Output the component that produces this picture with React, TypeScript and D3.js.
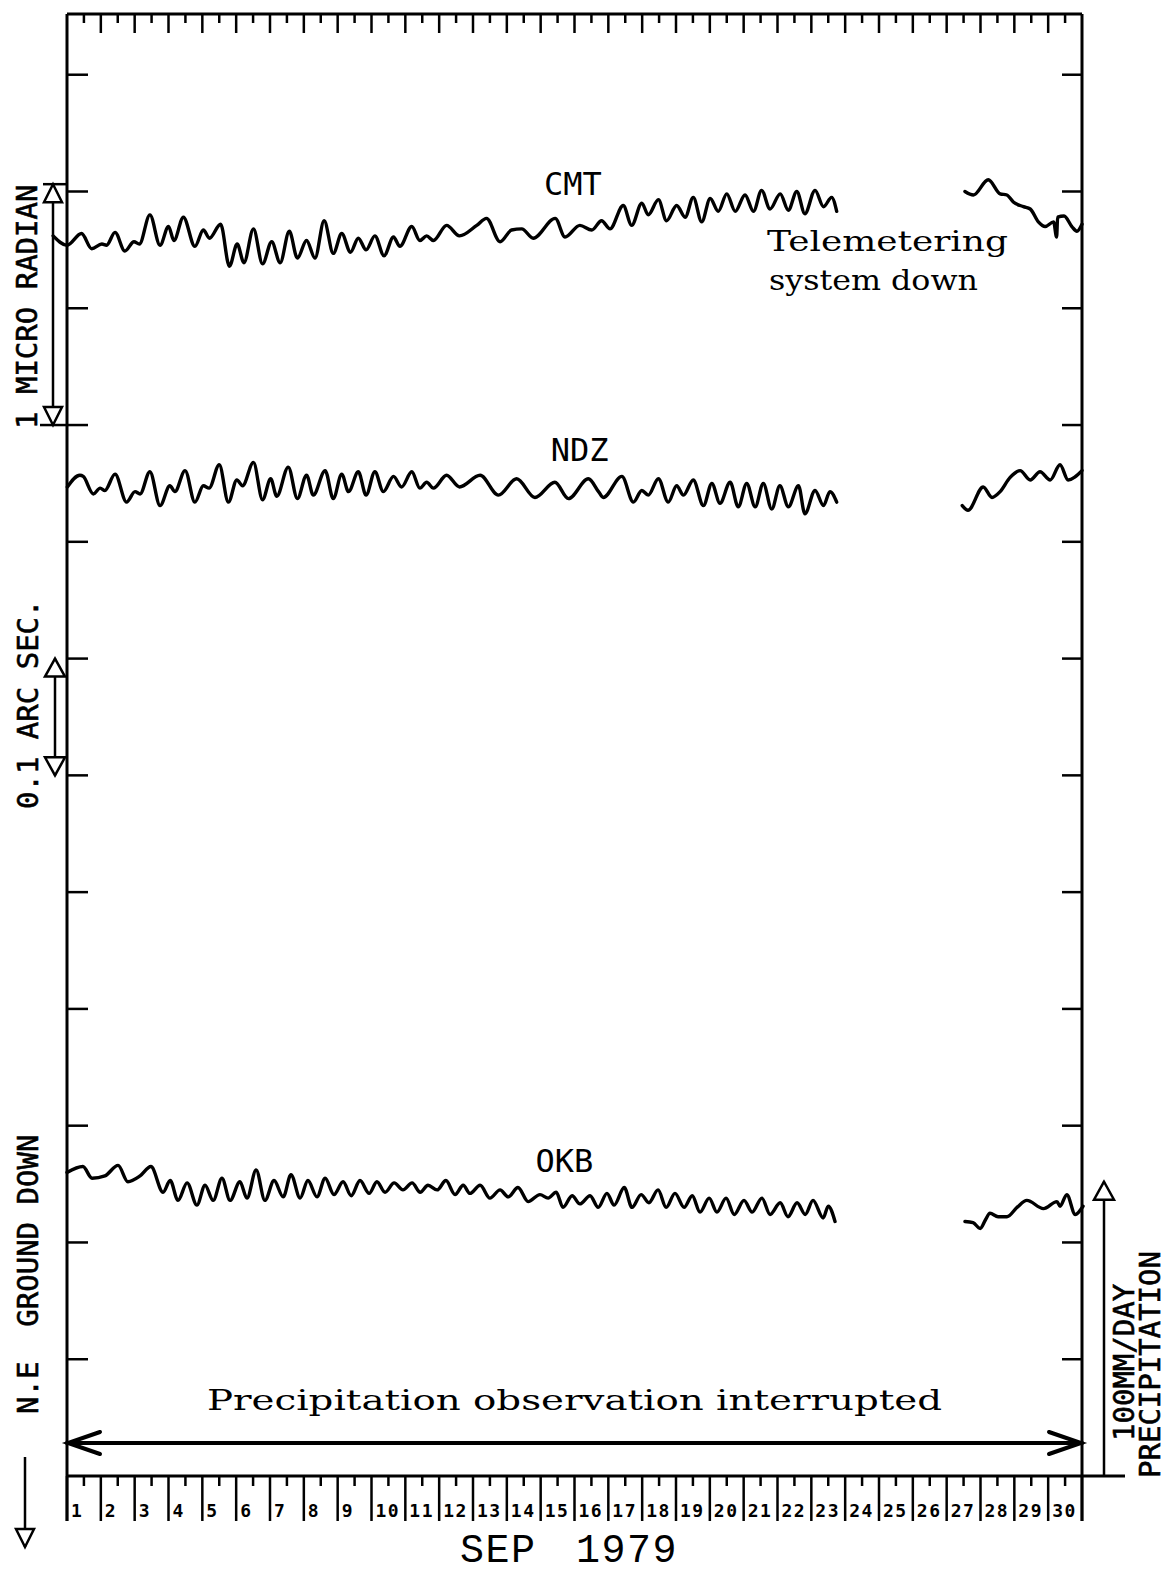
import React from "react";
import * as d3 from "d3";

// ---- data: day of Sep 1979 (fractional) and tilt in units of 0.1 arc sec ----
const dayLabels: number[] = d3.range(1, 31);
const tiltTicks: number[] = d3.range(1, 13);

const cmtBefore: [number, number][] = [
  [0.59, 10.62], [1.0, 10.54], [1.43, 10.64], [1.73, 10.51], [2.03, 10.55], [2.17, 10.54],
  [2.42, 10.65], [2.71, 10.49], [2.98, 10.57], [3.14, 10.55], [3.45, 10.8], [3.75, 10.54],
  [4.0, 10.7], [4.16, 10.58], [4.44, 10.78], [4.78, 10.53], [5.03, 10.67], [5.21, 10.6],
  [5.54, 10.72], [5.8, 10.36], [6.03, 10.55], [6.23, 10.39], [6.51, 10.68], [6.78, 10.38],
  [7.05, 10.57], [7.3, 10.39], [7.57, 10.66], [7.81, 10.43], [8.08, 10.58], [8.33, 10.43],
  [8.6, 10.75], [8.87, 10.47], [9.12, 10.64], [9.38, 10.48], [9.61, 10.6], [9.84, 10.5],
  [10.1, 10.62], [10.37, 10.45], [10.65, 10.61], [10.84, 10.53], [11.19, 10.7], [11.43, 10.58],
  [11.63, 10.62], [11.83, 10.58], [12.22, 10.71], [12.6, 10.62], [13.11, 10.71], [13.4, 10.77],
  [13.8, 10.57], [14.14, 10.67], [14.44, 10.68], [14.78, 10.6], [15.43, 10.77], [15.72, 10.61],
  [16.16, 10.71], [16.51, 10.67], [16.8, 10.75], [17.05, 10.68], [17.44, 10.88], [17.69, 10.71],
  [17.99, 10.9], [18.18, 10.8], [18.48, 10.93], [18.72, 10.75], [19.02, 10.88], [19.27, 10.78],
  [19.51, 10.95], [19.76, 10.74], [20.01, 10.94], [20.25, 10.83], [20.5, 10.98], [20.75, 10.83],
  [21.04, 10.97], [21.29, 10.83], [21.53, 11.01], [21.78, 10.85], [22.08, 10.98], [22.32, 10.84],
  [22.57, 11.0], [22.81, 10.81], [23.11, 11.01], [23.36, 10.87], [23.6, 10.95], [23.75, 10.83],
];
const cmtAfter: [number, number][] = [
  [27.54, 11.0], [27.79, 10.97], [28.23, 11.1], [28.58, 10.98], [28.78, 10.97], [28.97, 10.91],
  [29.27, 10.87], [29.47, 10.85], [29.71, 10.74], [29.91, 10.7], [30.16, 10.74], [30.25, 10.61],
  [30.28, 10.78], [30.47, 10.79], [30.7, 10.7], [30.85, 10.66], [31.0, 10.72],
];

const ndzBefore: [number, number][] = [
  [1.01, 8.47], [1.38, 8.57], [1.48, 8.56], [1.78, 8.41], [1.98, 8.46], [2.12, 8.44],
  [2.42, 8.58], [2.76, 8.34], [3.01, 8.43], [3.16, 8.41], [3.45, 8.6], [3.75, 8.31],
  [4.04, 8.48], [4.19, 8.43], [4.49, 8.61], [4.78, 8.34], [5.03, 8.48], [5.2, 8.46],
  [5.5, 8.66], [5.77, 8.34], [6.02, 8.53], [6.19, 8.48], [6.51, 8.68], [6.78, 8.36],
  [7.02, 8.54], [7.2, 8.39], [7.54, 8.64], [7.81, 8.37], [8.08, 8.57], [8.28, 8.4],
  [8.63, 8.61], [8.87, 8.37], [9.12, 8.58], [9.32, 8.43], [9.61, 8.6], [9.84, 8.4],
  [10.1, 8.6], [10.35, 8.43], [10.65, 8.56], [10.89, 8.47], [11.19, 8.6], [11.43, 8.46],
  [11.63, 8.51], [11.83, 8.46], [12.22, 8.57], [12.6, 8.47], [13.21, 8.57], [13.75, 8.4],
  [14.29, 8.54], [14.83, 8.38], [15.42, 8.51], [15.82, 8.37], [16.41, 8.54], [16.71, 8.43],
  [16.85, 8.38], [17.4, 8.56], [17.74, 8.34], [17.99, 8.44], [18.18, 8.4], [18.48, 8.54],
  [18.77, 8.34], [19.02, 8.48], [19.22, 8.4], [19.51, 8.53], [19.81, 8.31], [20.06, 8.5],
  [20.3, 8.33], [20.6, 8.51], [20.84, 8.3], [21.09, 8.5], [21.34, 8.3], [21.58, 8.5],
  [21.83, 8.28], [22.07, 8.48], [22.32, 8.3], [22.62, 8.48], [22.81, 8.24], [23.11, 8.44],
  [23.36, 8.31], [23.55, 8.43], [23.75, 8.34],
];
const ndzAfter: [number, number][] = [
  [27.46, 8.31], [27.63, 8.27], [28.08, 8.47], [28.34, 8.38], [28.58, 8.43], [28.87, 8.55],
  [29.17, 8.61], [29.47, 8.53], [29.76, 8.6], [30.06, 8.53], [30.35, 8.66], [30.59, 8.53],
  [31.0, 8.61],
];

const okbBefore: [number, number][] = [
  [1.0, 2.6], [1.47, 2.65], [1.74, 2.55], [2.12, 2.57], [2.51, 2.66], [2.8, 2.52],
  [3.16, 2.57], [3.48, 2.65], [3.84, 2.43], [4.05, 2.53], [4.28, 2.36], [4.55, 2.51],
  [4.84, 2.32], [5.08, 2.49], [5.32, 2.36], [5.58, 2.55], [5.82, 2.36], [6.11, 2.52],
  [6.32, 2.38], [6.59, 2.62], [6.85, 2.36], [7.12, 2.53], [7.39, 2.39], [7.62, 2.58],
  [7.89, 2.38], [8.12, 2.53], [8.39, 2.39], [8.63, 2.55], [8.89, 2.41], [9.16, 2.52],
  [9.4, 2.4], [9.66, 2.53], [9.93, 2.42], [10.16, 2.52], [10.4, 2.43], [10.67, 2.51],
  [10.93, 2.45], [11.2, 2.51], [11.44, 2.43], [11.67, 2.49], [11.94, 2.45], [12.2, 2.53],
  [12.47, 2.41], [12.71, 2.49], [12.91, 2.42], [13.21, 2.49], [13.5, 2.38], [13.8, 2.45],
  [14.04, 2.39], [14.33, 2.47], [14.63, 2.35], [14.98, 2.41], [15.22, 2.38], [15.46, 2.43],
  [15.66, 2.3], [15.93, 2.4], [16.16, 2.33], [16.46, 2.4], [16.7, 2.3], [16.96, 2.42],
  [17.17, 2.32], [17.47, 2.47], [17.7, 2.3], [17.97, 2.41], [18.2, 2.34], [18.47, 2.45],
  [18.71, 2.3], [18.97, 2.42], [19.24, 2.3], [19.48, 2.4], [19.71, 2.26], [19.98, 2.38],
  [20.21, 2.26], [20.48, 2.38], [20.72, 2.24], [21.01, 2.36], [21.25, 2.26], [21.54, 2.38],
  [21.78, 2.24], [22.08, 2.34], [22.31, 2.22], [22.58, 2.34], [22.82, 2.24], [23.05, 2.36],
  [23.35, 2.21], [23.5, 2.31], [23.7, 2.18],
];
const okbAfter: [number, number][] = [
  [27.54, 2.18], [27.78, 2.17], [27.99, 2.12], [28.14, 2.19], [28.28, 2.25], [28.52, 2.22],
  [28.78, 2.22], [29.08, 2.3], [29.37, 2.36], [29.86, 2.29], [30.26, 2.35], [30.35, 2.31],
  [30.55, 2.41], [30.8, 2.24], [31.03, 2.31],
];

const stations: { name: string; segments: [number, number][][]; label: [number, number] }[] = [
  { name: "CMT", segments: [cmtBefore, cmtAfter], label: [15.95, 10.97] },
  { name: "NDZ", segments: [ndzBefore, ndzAfter], label: [16.15, 8.69] },
  { name: "OKB", segments: [okbBefore, okbAfter], label: [15.7, 2.6] },
];

// ---- scales ----
const x = d3.scaleLinear().domain([1, 31]).range([67, 1082]);
const y = d3.scaleLinear().domain([0, 12.52]).range([1476, 14]);
const X0 = x(1), X1 = x(31), Y0 = y(0), Y1 = y(12.52);

const line = d3
  .line<[number, number]>()
  .x((d) => x(d[0]))
  .y((d) => y(d[1]))
  .curve(d3.curveMonotoneX);

const MONO = "'DejaVu Sans Mono', monospace";
const THIN = "'Liberation Mono', monospace";
const TYPE = "'DejaVu Serif', serif";

function UpTri({ cx, ay, w = 9, h = 18 }: { cx: number; ay: number; w?: number; h?: number }) {
  return <polygon points={`${cx},${ay} ${cx - w},${ay + h} ${cx + w},${ay + h}`} fill="#fff" stroke="#000" strokeWidth={2.5} />;
}
function DownTri({ cx, ay, w = 9, h = 18 }: { cx: number; ay: number; w?: number; h?: number }) {
  return <polygon points={`${cx},${ay} ${cx - w},${ay - h} ${cx + w},${ay - h}`} fill="#fff" stroke="#000" strokeWidth={2.5} />;
}

export default function App() {
  const microTop = y(9 + 2.0626);
  const microBot = y(9);
  return (
    <svg width={1168} height={1574} viewBox="0 0 1168 1574" style={{ position: "absolute", left: 0, top: 0, background: "#fff" }}>
      <rect x={0} y={0} width={1168} height={1574} fill="#fff" />
      {/* frame */}
      <g stroke="#000" strokeWidth={3} fill="none">
        <line x1={X0} y1={Y1} x2={X1} y2={Y1} />
        <line x1={X0} y1={Y1} x2={X0} y2={1521} />
        <line x1={X1} y1={Y1} x2={X1} y2={1521} />
        <line x1={X0} y1={Y0} x2={1125} y2={Y0} />
      </g>
      {/* ticks */}
      <g stroke="#000" strokeWidth={2.5}>
        {d3.range(1.5, 31, 0.5).map((d) => (
          <line key={d} x1={x(d)} x2={x(d)} y1={Y1} y2={Y1 + (Number.isInteger(d) ? 19 : 9)} />
        ))}
        {d3.range(1, 32).map((d) => (
          <line key={"b" + d} x1={x(d)} x2={x(d)} y1={Y0} y2={1521} />
        ))}
        {d3.range(1.5, 31, 1).map((d) => (
          <line key={"m" + d} x1={x(d)} x2={x(d)} y1={Y0} y2={Y0 + 10} />
        ))}
        {tiltTicks.map((t) => (
          <g key={"t" + t}>
            <line x1={X0} x2={X0 + 21} y1={y(t)} y2={y(t)} />
            <line x1={X1 - 20} x2={X1} y1={y(t)} y2={y(t)} />
          </g>
        ))}
      </g>
      {/* day labels */}
      <g fontFamily={MONO} fontWeight="bold" fontSize={18} fill="#000">
        {dayLabels.map((d) => (
          <text key={d} x={x(d) + 4} y={1517} letterSpacing={1.5}>
            {d}
          </text>
        ))}
      </g>
      <text x={460} y={1562} fontFamily={THIN} fontSize={40} letterSpacing={1.5} wordSpacing={14} fill="#000">
        SEP 1979
      </text>

      {/* traces */}
      <g fill="none" stroke="#000" strokeWidth={3.4} strokeLinejoin="round" strokeLinecap="round">
        {stations.map((s) =>
          s.segments.map((seg, i) => <path key={s.name + i} d={line(seg) || ""} />)
        )}
      </g>
      <g fontFamily={MONO} fontSize={32} fill="#000" textAnchor="middle">
        {stations.map((s) => (
          <text key={s.name} x={x(s.label[0])} y={y(s.label[1])}>
            {s.name}
          </text>
        ))}
      </g>

      {/* annotations */}
      <g fontFamily={TYPE} fontSize={28} fill="#000">
        <text x={767} y={251} textLength={241} lengthAdjust="spacingAndGlyphs">Telemetering</text>
        <text x={769} y={290} textLength={209} lengthAdjust="spacingAndGlyphs">system down</text>
        <text x={207} y={1410} textLength={735} lengthAdjust="spacingAndGlyphs">Precipitation observation interrupted</text>
      </g>
      {/* precipitation interrupted double arrow */}
      <g stroke="#000" strokeWidth={4} fill="none" strokeLinecap="round">
        <line x1={X0} y1={1443} x2={X1} y2={1443} />
        <polyline points={`${X0 + 33},${1432} ${X0 + 1},${1443} ${X0 + 33},${1454}`} />
        <polyline points={`${X1 - 33},${1432} ${X1 - 1},${1443} ${X1 - 33},${1454}`} />
      </g>

      {/* scale arrows */}
      <g stroke="#000" strokeWidth={2.5} fill="none">
        <line x1={53} x2={53} y1={microTop} y2={microBot} />
        <line x1={43} x2={X0} y1={microTop} y2={microTop} />
        <line x1={40} x2={X0} y1={microBot} y2={microBot} />
        <line x1={55} x2={55} y1={y(7)} y2={y(6)} />
        <line x1={25} x2={25} y1={1457} y2={1547} />
        <line x1={1104} x2={1104} y1={Y0} y2={y(2.52)} />
      </g>
      <UpTri cx={53} ay={microTop} />
      <DownTri cx={53} ay={microBot} />
      <UpTri cx={55} ay={y(7)} w={10} />
      <DownTri cx={55} ay={y(6)} w={10} />
      <DownTri cx={25} ay={1547} />
      <UpTri cx={1104} ay={y(2.52)} w={10} />

      <g fontFamily={MONO} fontSize={29} fill="#000" stroke="#000" strokeWidth={0.6}>
        <text transform={`translate(37,429) rotate(-90)`}>1 MICRO RADIAN</text>
        <text transform={`translate(38,809) rotate(-90)`}>0.1 ARC SEC.</text>
        <text transform={`translate(38,1414) rotate(-90)`} style={{ whiteSpace: "pre" }}>
          {"N.E  GROUND DOWN"}
        </text>
        <text transform={`translate(1134,1441) rotate(-90)`}>100MM/DAY</text>
        <text transform={`translate(1160,1478) rotate(-90)`}>PRECIPITATION</text>
      </g>
    </svg>
  );
}
